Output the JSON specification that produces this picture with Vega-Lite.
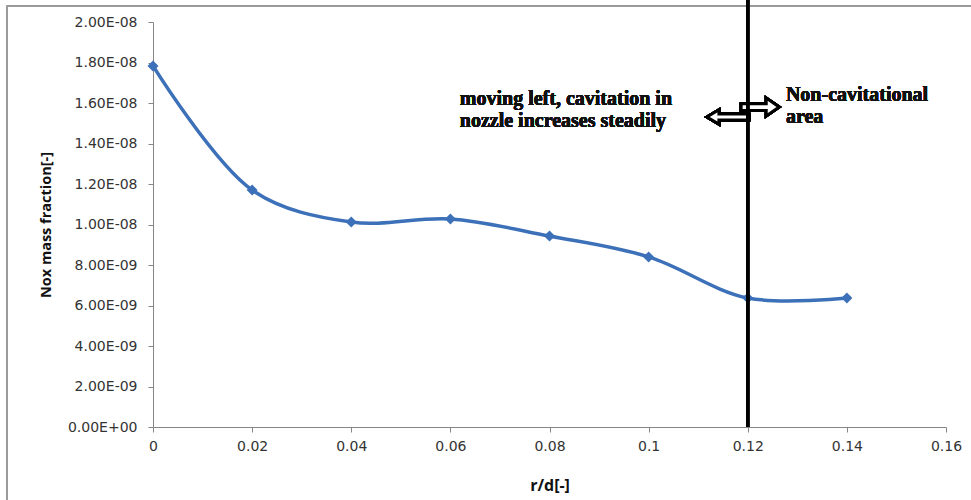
{
  "$schema": "https://vega.github.io/schema/vega-lite/v6.json",
  "autosize": "none",
  "width": 793,
  "height": 405,
  "padding": {"left": 153, "top": 22, "right": 25, "bottom": 73},
  "background": "white",
  "config": {
    "view": {"stroke": null},
    "axis": {
      "grid": false,
      "domainColor": "#868686",
      "tickColor": "#868686",
      "tickSize": 5,
      "labelFont": "DejaVu Sans",
      "labelFontSize": 14,
      "labelColor": "#333333",
      "labelFlush": false,
      "labelOverlap": false,
      "titleFont": "Open Sans",
      "titleFontWeight": "bold",
      "titleColor": "#111111"
    }
  },
  "data": {
    "values": [
      {"rd": 0.00, "nox": 1.783e-8},
      {"rd": 0.02, "nox": 1.170e-8},
      {"rd": 0.04, "nox": 1.012e-8},
      {"rd": 0.06, "nox": 1.027e-8},
      {"rd": 0.08, "nox": 9.43e-9},
      {"rd": 0.10, "nox": 8.40e-9},
      {"rd": 0.12, "nox": 6.37e-9},
      {"rd": 0.14, "nox": 6.37e-9}
    ]
  },
  "layer": [
    {
      "mark": {"type": "line", "interpolate": "catmull-rom", "color": "#3C70B8", "strokeWidth": 3.5},
      "encoding": {
        "x": {
          "field": "rd", "type": "quantitative",
          "scale": {"domain": [0, 0.16], "nice": false, "zero": false},
          "axis": {
            "values": [0, 0.02, 0.04, 0.06, 0.08, 0.1, 0.12, 0.14, 0.16],
            "format": "~g",
            "labelPadding": 7,
            "title": "r/d[-]",
            "titleFontSize": 16,
            "titlePadding": 24
          }
        },
        "y": {
          "field": "nox", "type": "quantitative",
          "scale": {"domain": [0, 2e-8], "nice": false},
          "axis": {
            "values": [0, 2e-9, 4e-9, 6e-9, 8e-9, 1e-8, 1.2e-8, 1.4e-8, 1.6e-8, 1.8e-8, 2e-8],
            "labelExpr": "replace(replace(format(datum.value, '.2e'), 'e-', 'E-0'), 'e+', 'E+0')",
            "labelPadding": 11,
            "title": "Nox mass fraction[-]",
            "titleFontSize": 14.5,
            "titlePadding": 14
          }
        }
      }
    },
    {
      "mark": {"type": "point", "shape": "diamond", "filled": true, "color": "#3C70B8", "size": 120, "opacity": 1},
      "encoding": {
        "x": {"field": "rd", "type": "quantitative"},
        "y": {"field": "nox", "type": "quantitative"}
      }
    },
    {
      "mark": {"type": "rule", "color": "#9a9a9a", "strokeWidth": 1.5, "clip": false},
      "encoding": {
        "x": {"datum": -0.0295},
        "x2": {"datum": 0.1665},
        "y": {"datum": 2.079e-8}
      }
    },
    {
      "mark": {"type": "rule", "color": "#9a9a9a", "strokeWidth": 1.5, "clip": false},
      "encoding": {
        "x": {"datum": -0.0295},
        "y": {"datum": 2.079e-8},
        "y2": {"datum": -3.6e-9}
      }
    },
    {
      "mark": {
        "type": "point",
        "shape": "M-1,0L-0.43,-0.34L-0.43,-0.14L1,-0.14L1,0.14L-0.43,0.14L-0.43,0.34Z",
        "size": 1764, "filled": true, "fill": "white", "stroke": "black", "strokeWidth": 3, "opacity": 1, "clip": false
      },
      "encoding": {"x": {"datum": 0.116}, "y": {"datum": 1.531e-8}}
    },
    {
      "mark": {
        "type": "point",
        "shape": "M1,0L0.32,-0.47L0.32,-0.18L-1,-0.18L-1,0.18L0.32,0.18L0.32,0.47Z",
        "size": 1444, "filled": true, "fill": "white", "stroke": "black", "strokeWidth": 3, "opacity": 1, "clip": false
      },
      "encoding": {"x": {"datum": 0.1225}, "y": {"datum": 1.58e-8}}
    },
    {
      "mark": {"type": "rule", "color": "black", "strokeWidth": 3, "clip": false},
      "encoding": {
        "x": {"datum": 0.12},
        "y": {"datum": 0},
        "y2": {"datum": 2.11e-8}
      }
    },
    {
      "mark": {"type": "text", "font": "Liberation Serif", "fontWeight": "bold", "fontSize": 20, "align": "left", "baseline": "middle", "color": "#111111"},
      "encoding": {"x": {"datum": 0.0619}, "y": {"datum": 1.62e-8}, "text": {"value": "moving left, cavitation in"}}
    },
    {
      "mark": {"type": "text", "font": "Liberation Serif", "fontWeight": "bold", "fontSize": 20, "align": "left", "baseline": "middle", "color": "#111111"},
      "encoding": {"x": {"datum": 0.0619}, "y": {"datum": 1.511e-8}, "text": {"value": "nozzle increases steadily"}}
    },
    {
      "mark": {"type": "text", "font": "Liberation Serif", "fontWeight": "bold", "fontSize": 20, "align": "left", "baseline": "middle", "color": "#111111"},
      "encoding": {"x": {"datum": 0.1277}, "y": {"datum": 1.64e-8}, "text": {"value": "Non-cavitational"}}
    },
    {
      "mark": {"type": "text", "font": "Liberation Serif", "fontWeight": "bold", "fontSize": 20, "align": "left", "baseline": "middle", "color": "#111111"},
      "encoding": {"x": {"datum": 0.1277}, "y": {"datum": 1.531e-8}, "text": {"value": "area"}}
    }
  ]
}
